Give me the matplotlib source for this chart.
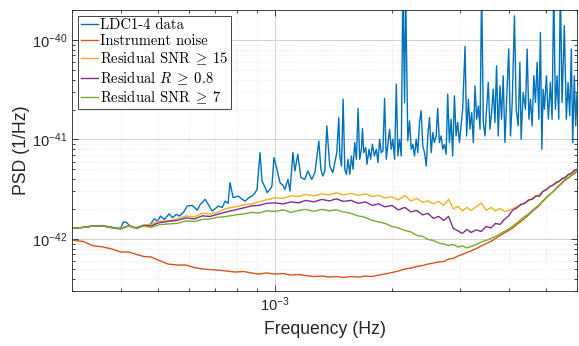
import numpy as np
import matplotlib
matplotlib.use("Agg")
import matplotlib.pyplot as plt
from matplotlib.ticker import LogLocator, NullFormatter

# frequency grid (mHz) shared by the smooth residual curves
freq_mhz = [0.30, 0.32, 0.34, 0.36, 0.38, 0.40, 0.42, 0.44, 0.46, 0.48,
            0.50, 0.53, 0.56, 0.59, 0.62, 0.65, 0.68, 0.71, 0.75, 0.79,
            0.83, 0.87, 0.91, 0.95, 1.00, 1.05, 1.10, 1.15, 1.20, 1.26,
            1.32, 1.38, 1.44, 1.50, 1.57, 1.64, 1.71, 1.78, 1.85, 1.92,
            2.00, 2.08, 2.16, 2.24, 2.32, 2.40, 2.48, 2.56, 2.64, 2.72,
            2.80, 2.88, 2.96, 3.04, 3.12, 3.20, 3.30, 3.40, 3.50, 3.60,
            3.70, 3.80, 3.90, 4.00, 4.10, 4.20, 4.30, 4.40, 4.50, 4.60,
            4.70, 4.80, 4.90, 5.00, 5.10, 5.20, 5.30, 5.40, 5.50, 5.60,
            5.70, 5.80, 5.90, 6.00]

# PSD values in units of 1e-42 1/Hz
noise_psd = [0.973, 0.944, 0.854, 0.831, 0.793, 0.740, 0.740, 0.698, 0.666, 0.659,
             0.614, 0.560, 0.547, 0.547, 0.516, 0.499, 0.493, 0.487, 0.476, 0.465,
             0.471, 0.455, 0.444, 0.455, 0.444, 0.449, 0.434, 0.439, 0.429, 0.419,
             0.424, 0.414, 0.419, 0.410, 0.419, 0.414, 0.424, 0.419, 0.434, 0.444,
             0.460, 0.476, 0.499, 0.510, 0.529, 0.541, 0.560, 0.573, 0.587, 0.593,
             0.629, 0.636, 0.674, 0.698, 0.731, 0.757, 0.802, 0.850, 0.901, 0.944,
             1.012, 1.084, 1.149, 1.218, 1.290, 1.400, 1.501, 1.609, 1.745, 1.892,
             2.028, 2.175, 2.386, 2.588, 2.774, 2.974, 3.226, 3.458, 3.707, 3.974,
             4.10, 4.33, 4.52, 4.80]

snr15_psd = [1.276, 1.306, 1.352, 1.368, 1.306, 1.276, 1.368, 1.290, 1.384, 1.400,
             1.501, 1.518, 1.590, 1.704, 1.665, 1.806, 1.785, 1.848, 2.028, 2.101,
             2.200, 2.252, 2.359, 2.470, 2.588, 2.558, 2.710, 2.679, 2.806, 2.710,
             2.839, 2.774, 2.906, 2.774, 2.872, 2.743, 2.839, 2.679, 2.743, 2.588,
             2.649, 2.470, 2.743, 2.413, 2.558, 2.332, 2.413, 2.252, 2.386, 2.175,
             2.499, 2.005, 2.125, 1.914, 2.076, 1.936, 2.101, 2.305, 1.936, 2.076,
             1.914, 2.028, 1.892, 1.936, 2.005, 2.125, 2.200, 2.305, 2.413, 2.558,
             2.679, 2.806, 3.009, 3.152, 3.301, 3.499, 3.622, 3.837, 4.020, 4.162,
             4.360, 4.567, 4.784, 5.010]

r08_psd = [1.276, 1.306, 1.352, 1.352, 1.306, 1.261, 1.352, 1.276, 1.368, 1.352,
           1.449, 1.501, 1.536, 1.627, 1.590, 1.704, 1.685, 1.765, 1.870, 1.959,
           2.052, 2.150, 2.175, 2.279, 2.305, 2.252, 2.359, 2.305, 2.442, 2.359,
           2.499, 2.413, 2.528, 2.386, 2.442, 2.279, 2.359, 2.175, 2.252, 2.101,
           2.175, 1.959, 2.076, 1.870, 1.936, 1.745, 1.806, 1.609, 1.685, 1.536,
           1.685, 1.276, 1.204, 1.136, 1.246, 1.163, 1.232, 1.190, 1.336, 1.290,
           1.433, 1.400, 1.572, 1.704, 1.959, 2.052, 2.226, 2.279, 2.470, 2.499,
           2.710, 2.679, 3.009, 3.115, 3.379, 3.458, 3.707, 3.793, 4.067, 4.162,
           4.462, 4.567, 4.895, 5.010]

snr7_psd = [1.276, 1.306, 1.346, 1.352, 1.290, 1.261, 1.352, 1.276, 1.352, 1.306,
            1.384, 1.416, 1.433, 1.518, 1.501, 1.572, 1.590, 1.646, 1.685, 1.745,
            1.785, 1.848, 1.827, 1.914, 1.892, 1.959, 1.848, 1.936, 1.982, 1.892,
            1.982, 1.914, 1.959, 1.870, 1.806, 1.704, 1.646, 1.536, 1.483, 1.433,
            1.336, 1.290, 1.218, 1.176, 1.084, 1.060, 0.988, 0.966, 0.911, 0.890,
            0.860, 0.880, 0.831, 0.850, 0.812, 0.840, 0.880, 0.933, 0.966, 1.012,
            1.060, 1.123, 1.190, 1.261, 1.352, 1.449, 1.572, 1.685, 1.785, 1.936,
            2.076, 2.226, 2.413, 2.618, 2.806, 2.974, 3.188, 3.418, 3.664, 3.883,
            4.115, 4.360, 4.567, 4.839]

# LDC1-4 data: own frequency grid (mHz) and PSD (1e-42 1/Hz)
data_freq_mhz = [0.300, 0.319, 0.339, 0.360, 0.379, 0.400, 0.407, 0.414, 0.422, 0.437,
                 0.456, 0.475, 0.489, 0.498, 0.507, 0.519, 0.534, 0.544, 0.557, 0.567,
                 0.581, 0.594, 0.612, 0.631, 0.642, 0.661, 0.673, 0.689, 0.714, 0.731,
                 0.744, 0.757, 0.766, 0.780, 0.804, 0.823, 0.838, 0.858, 0.873, 0.889,
                 0.899, 0.915, 0.926, 0.943, 0.954, 0.971, 0.982, 0.994, 1.012, 1.030,
                 1.048, 1.061, 1.080, 1.093, 1.112, 1.125, 1.145, 1.166, 1.194, 1.215,
                 1.244, 1.267, 1.297, 1.313, 1.328, 1.344, 1.360, 1.384, 1.409, 1.443,
                 1.460,
                 1.469, 1.484, 1.498, 1.513, 1.528, 1.543, 1.558, 1.574, 1.589, 1.605,
                 1.621, 1.637, 1.653, 1.670, 1.680, 1.693, 1.713, 1.726, 1.747, 1.764,
                 1.782, 1.803, 1.824, 1.842, 1.860, 1.879, 1.897, 1.916, 1.935, 1.954,
                 1.973, 1.993, 2.012, 2.033, 2.054, 2.073, 2.094, 2.115, 2.135, 2.157,
                 2.170, 2.199, 2.222, 2.244, 2.265, 2.288, 2.311, 2.333, 2.357, 2.380,
                 2.403, 2.428, 2.453, 2.476, 2.501, 2.526, 2.550, 2.575, 2.601, 2.626,
                 2.652, 2.679, 2.705, 2.732, 2.760, 2.786, 2.814, 2.842, 2.869, 2.899,
                 2.928, 2.956, 2.986, 3.016, 3.045, 3.088, 3.117, 3.149, 3.180, 3.211,
                 3.243, 3.276, 3.308, 3.341, 3.375, 3.407, 3.441, 3.475, 3.508, 3.544,
                 3.580, 3.614, 3.650, 3.687, 3.722, 3.760, 3.798, 3.834, 3.872, 3.912,
                 3.949,
                 4.001, 4.044, 4.085, 4.140, 4.182, 4.232, 4.275, 4.307, 4.359, 4.419,
                 4.463, 4.509, 4.552, 4.597, 4.644, 4.688, 4.735, 4.783, 4.829, 4.869,
                 4.906, 4.944, 5.003, 5.062, 5.123, 5.174, 5.226, 5.276, 5.330, 5.384,
                 5.435, 5.489, 5.565, 5.631, 5.688, 5.746, 5.800, 5.848, 5.904, 5.952,
                 6.000]

data_psd = [1.276, 1.306, 1.346, 1.352, 1.306, 1.276, 1.483, 1.466, 1.368, 1.290,
            1.368, 1.368, 1.597, 1.501, 1.697, 1.572, 1.794, 1.635, 1.765, 1.697,
            1.848, 2.139, 2.175, 1.950, 2.226, 2.499, 2.226, 1.905, 2.139, 2.076,
            2.403, 2.279, 3.681, 2.600, 2.698, 2.499, 2.403, 2.618, 2.698, 2.920,
            3.152, 7.38, 3.821, 3.301, 2.920, 3.152, 3.401, 6.57, 5.010, 3.681,
            3.458, 3.152, 3.974, 3.029, 7.38, 4.817, 7.10, 4.134, 3.974, 4.817,
            3.974, 4.642, 9.66, 5.010, 4.290, 4.817, 13.68, 5.41, 4.642, 7.38,
            16.61,
            6.82, 5.41, 25.4, 5.010, 4.462, 6.32, 4.462, 6.82, 5.010, 9.31,
            6.32, 20.5, 6.32, 7.98, 12.88, 7.38, 8.29, 5.63, 7.98, 6.32,
            8.95, 6.82, 7.98, 5.85, 10.05, 7.38, 7.66, 25.8, 6.32, 8.95,
            12.66, 7.98, 10.05, 6.32, 35.96, 6.82, 10.05, 6.82, 350, 23.5,
            350, 9.66, 15.36, 7.98, 8.95, 6.82, 10.05, 7.38, 14.80, 19.36,
            8.60, 7.38, 5.41, 10.84, 16.61, 7.38, 11.73, 9.31, 10.84, 20.5,
            9.31, 10.84, 7.98, 8.95, 7.10, 28.5, 9.31, 15.97, 6.82, 27.4,
            10.84, 14.80, 9.31, 13.68, 20.1, 86.2, 10.84, 25.4, 12.66, 18.66,
            9.31, 34.6, 15.97, 21.75, 12.66, 350, 14.80, 10.84, 20.1, 37.4,
            12.66, 18.66, 32.0, 14.80, 55.0, 10.84, 34.6, 15.97, 43.6, 9.31,
            23.5,
            81.0, 10.84, 23.7, 175, 20.1, 13.68, 59.5, 10.05, 29.7, 20.1,
            81.0, 15.97, 25.4, 13.68, 43.6, 23.5, 59.5, 15.97, 119, 7.98,
            32.0, 20.1, 43.6, 15.97, 37.4, 15.97, 350, 20.1, 43.6, 15.97,
            350, 23.5, 139, 15.97, 37.4, 17.25, 81.0, 9.31, 43.6, 13.68,
            29.7]

labels = ["LDC1-4 data", "Instrument noise", r"Residual SNR$\;\geq\;$15",
          r"Residual $R\;\geq\;0.8$", r"Residual SNR$\;\geq\;$7"]
colors = ["#0072BD", "#D95319", "#EDB120", "#7E2F8E", "#77AC30"]

plt.rcParams["font.family"] = ["Liberation Sans", "DejaVu Sans"]
plt.rcParams["mathtext.fontset"] = "cm"

f = np.array(freq_mhz) * 1e-3
fd = np.array(data_freq_mhz) * 1e-3
scale = 1e-42

fig = plt.figure(figsize=(5.79, 3.46), dpi=100)
ax = fig.add_axes([0.1244, 0.159, 0.8722, 0.8121])

ax.plot(fd, np.array(data_psd) * scale, color=colors[0], lw=1.0, label=labels[0])
ax.plot(f, np.array(noise_psd) * scale, color=colors[1], lw=1.0, label=labels[1])
ax.plot(f, np.array(snr15_psd) * scale, color=colors[2], lw=1.0, label=labels[2])
ax.plot(f, np.array(r08_psd) * scale, color=colors[3], lw=1.0, label=labels[3])
ax.plot(f, np.array(snr7_psd) * scale, color=colors[4], lw=1.0, label=labels[4])

ax.set_xscale("log")
ax.set_yscale("log")
ax.set_xlim(3e-4, 6e-3)
ax.set_ylim(3e-43, 2e-40)

ax.set_xticks([1e-3])
ax.set_yticks([1e-42, 1e-41, 1e-40])
for axis in (ax.xaxis, ax.yaxis):
    axis.set_minor_locator(LogLocator(base=10, subs=np.arange(2, 10), numticks=100))
    axis.set_minor_formatter(NullFormatter())

ax.tick_params(which="both", direction="in", top=True, right=True,
               colors="#262626", width=0.6, labelsize=10.5)
ax.tick_params(which="major", length=4.5)
ax.tick_params(which="minor", length=2.5)

ax.grid(True, which="major", color="#d2d2d2", lw=0.7)
ax.grid(True, which="minor", color="#e0e0e0", lw=0.6, ls=(0, (1, 2)))
ax.set_axisbelow(True)
for sp in ax.spines.values():
    sp.set_color("#262626")
    sp.set_linewidth(0.6)

ax.set_xlabel("Frequency (Hz)", fontsize=12.7, color="#262626", labelpad=5)
ax.set_ylabel("PSD (1/Hz)", fontsize=12.7, color="#262626", labelpad=1)

leg = ax.legend(loc="upper left", prop={"family": "cmr10", "size": 10.5},
                fancybox=False, framealpha=1, edgecolor="#262626",
                handlelength=1.15, handletextpad=0.15, labelspacing=0.12,
                borderpad=0.2, borderaxespad=0.4)
leg.get_frame().set_linewidth(0.6)

fig.savefig("out.png", dpi=100)
